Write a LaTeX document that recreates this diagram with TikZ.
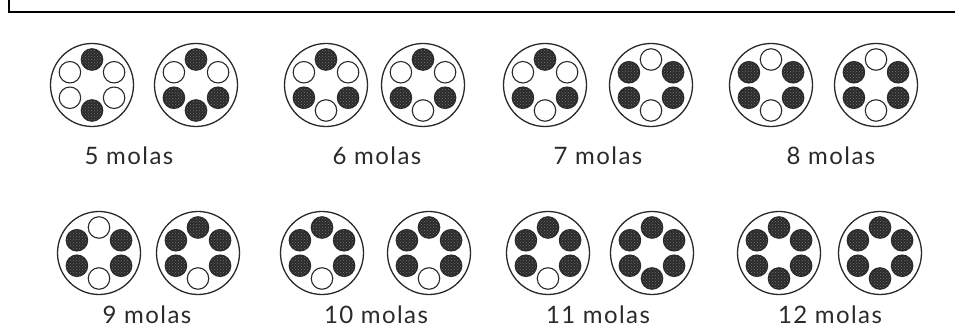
\documentclass[tikz,border=0pt]{standalone}
\usepackage{fontspec}
\setmainfont{Lato}
\newfontfamily\rotfont[LetterSpace=6]{Lato}
\usetikzlibrary{calc,patterns}

\definecolor{tinta}{HTML}{2A2A2A}

\tikzset{
  poco/.style={circle, draw=tinta, line width=1.3pt, minimum size=83pt, inner sep=0pt},
  cheia/.style={circle, draw=tinta, line width=1.1pt, minimum size=21.5pt, inner sep=0pt,
    preaction={fill=tinta}, pattern=crosshatch dots, pattern color=black!55},
  vazia/.style={circle, draw=tinta, line width=1.1pt, minimum size=21.5pt, inner sep=0pt, fill=white},
  rotulo/.style={text=tinta, font=\rotfont\fontsize{24}{28}\selectfont, inner sep=0pt}
}

% #1 nome, #2 x, #3 y, #4 furos (angulo/estilo)
\newcommand{\poco}[4]{%
  \node[poco] (#1) at (#2,#3) {};
  \foreach \a/\f in {#4}
    \node[\f] (#1-\a) at ($(#1)+(\a:25.5)$) {};
}

\begin{document}
\begin{tikzpicture}[x=1pt,y=1pt]
  \useasboundingbox (0,0) rectangle (955,334);
  % moldura
  \draw[line width=2pt, black] (9,334) -- (9,322) -- (955,322);

  % linha de cima
  \poco{p5a}{92}{249}{90/cheia,30/vazia,-30/vazia,-90/cheia,-150/vazia,150/vazia}
  \poco{p5b}{196}{249}{90/cheia,30/vazia,-30/cheia,-90/cheia,-150/cheia,150/vazia}
  \poco{p6a}{326}{249}{90/cheia,30/vazia,-30/cheia,-90/vazia,-150/cheia,150/vazia}
  \poco{p6b}{423}{249}{90/cheia,30/vazia,-30/cheia,-90/vazia,-150/cheia,150/vazia}
  \poco{p7a}{545}{249}{90/cheia,30/vazia,-30/cheia,-90/vazia,-150/cheia,150/vazia}
  \poco{p7b}{651}{249}{90/vazia,30/cheia,-30/cheia,-90/vazia,-150/cheia,150/cheia}
  \poco{p8a}{771}{249}{90/vazia,30/cheia,-30/cheia,-90/vazia,-150/cheia,150/cheia}
  \poco{p8b}{876}{249}{90/vazia,30/cheia,-30/cheia,-90/vazia,-150/cheia,150/cheia}

  \node[rotulo] (r5) at (129,178) {5 molas};
  \node[rotulo] (r6) at (377,178) {6 molas};
  \node[rotulo] (r7) at (598,178) {7 molas};
  \node[rotulo] (r8) at (831,178) {8 molas};

  % linha de baixo
  \poco{p9a}{99}{81}{90/vazia,30/cheia,-30/cheia,-90/vazia,-150/cheia,150/cheia}
  \poco{p9b}{198}{81}{90/cheia,30/cheia,-30/cheia,-90/vazia,-150/cheia,150/cheia}
  \poco{p10a}{322}{81}{90/cheia,30/cheia,-30/cheia,-90/vazia,-150/cheia,150/cheia}
  \poco{p10b}{429}{81}{90/cheia,30/cheia,-30/cheia,-90/vazia,-150/cheia,150/cheia}
  \poco{p11a}{548}{81}{90/cheia,30/cheia,-30/cheia,-90/vazia,-150/cheia,150/cheia}
  \poco{p11b}{652}{81}{90/cheia,30/cheia,-30/cheia,-90/cheia,-150/cheia,150/cheia}
  \poco{p12a}{779}{81}{90/cheia,30/cheia,-30/cheia,-90/cheia,-150/cheia,150/cheia}
  \poco{p12b}{880}{81}{90/cheia,30/cheia,-30/cheia,-90/cheia,-150/cheia,150/cheia}

  \node[rotulo] (r9) at (147,19) {9 molas};
  \node[rotulo] (r10) at (376,19) {10 molas};
  \node[rotulo] (r11) at (598,19) {11 molas};
  \node[rotulo] (r12) at (830,19) {12 molas};
\end{tikzpicture}
\end{document}
